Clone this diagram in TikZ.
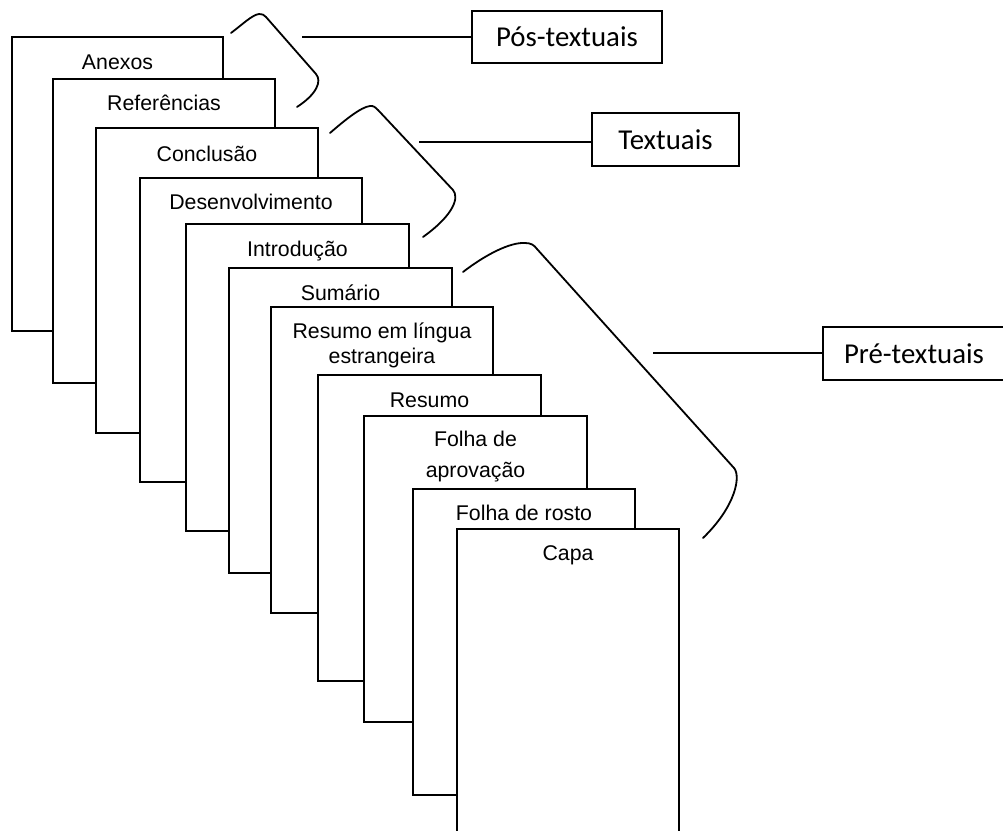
\documentclass[tikz,border=0pt]{standalone}
\usepackage{fontspec}
\setmainfont{Liberation Sans}
\newfontfamily\carlitofam{Carlito}
\newcommand{\pagefont}{\fontsize{21.3bp}{25bp}\selectfont}
\newcommand{\catfont}{\carlitofam\fontsize{28.8bp}{34bp}\selectfont}
\tikzset{
  pg/.style={draw, fill=white, line width=1.8bp, inner sep=0pt, outer sep=0pt, anchor=north west, shape=rectangle},
  pglbl/.style={font=\pagefont, anchor=base, inner sep=0pt, align=center},
  catbox/.style={draw, line width=1.8bp, inner sep=0pt, outer sep=0pt, font=\catfont, anchor=north west, shape=rectangle},
  bracket/.style={line width=1.8bp, line cap=round, line join=round},
  conn/.style={line width=1.8bp}
}
\begin{document}
\begin{tikzpicture}[x=1bp, y=-1bp]
\useasboundingbox (0,0) rectangle (1003,831);
% pages, back to front
\node[pg, minimum width=211bp, minimum height=294bp] (anexos) at (12,37) {};
\node[pglbl] (anexosT) at (117.5,69) {Anexos};
\node[pg, minimum width=222bp, minimum height=304bp] (refs) at (53,79) {};
\node[pglbl] (refsT) at (164,110) {Referências};
\node[pg, minimum width=222bp, minimum height=305bp] (concl) at (96,128) {};
\node[pglbl] (conclT) at (207,161) {Conclusão};
\node[pg, minimum width=222bp, minimum height=304bp] (desen) at (140,178) {};
\node[pglbl] (desenT) at (251,209) {Desenvolvimento};
\node[pg, minimum width=223bp, minimum height=307bp] (intro) at (186,224) {};
\node[pglbl] (introT) at (297.5,256) {Introdução};
\node[pg, minimum width=223bp, minimum height=305bp] (sumario) at (229,268) {};
\node[pglbl] (sumarioT) at (340.5,300) {Sumário};
\node[pg, minimum width=222bp, minimum height=306bp] (rle) at (271,307) {};
\node[pglbl] (rleT) at (382,363) {Resumo em língua\\estrangeira};
\node[pg, minimum width=223bp, minimum height=306bp] (resumo) at (318,375) {};
\node[pglbl] (resumoT) at (429.5,407) {Resumo};
\node[pg, minimum width=223bp, minimum height=306bp] (aprov) at (364,416) {};
\node[pglbl] (aprovT) at (475.5,477) {Folha de\\[6bp]aprovação};
\node[pg, minimum width=222bp, minimum height=306bp] (rosto) at (413,489) {};
\node[pglbl] (rostoT) at (524,520) {Folha de rosto};
\node[pg, minimum width=222bp, minimum height=320bp] (capa) at (457,529) {};
\node[pglbl] (capaT) at (568,560) {Capa};
% category boxes
\node[catbox, minimum width=190bp, minimum height=52bp] (pos) at (472,11) {Pós-textuais};
\node[catbox, minimum width=147bp, minimum height=53bp] (tex) at (592,113) {Textuais};
\node[catbox, minimum width=185bp, minimum height=53bp, text width=185bp, align=left] (pre) at (823,327) {\hspace*{21bp}Pré-textuais};
% brackets
\draw[bracket] (231,33) .. controls (243,24) and (252,15) .. (259,14)
  .. controls (262,13.5) and (264,15) .. (266,17) -- (316,74)
  .. controls (322,81) and (317,94) .. (297,107);
\draw[bracket] (330,133) .. controls (345,120) and (361,107) .. (370,106)
  .. controls (374,105.5) and (376,108) .. (378,110) -- (453,190)
  .. controls (459,197) and (455,214) .. (423,237);
\draw[bracket] (463,272) .. controls (485,255) and (510,242) .. (525,243)
  .. controls (531,243) and (534,245) .. (537,249) -- (734,468)
  .. controls (741,476) and (736,506) .. (703,538);
% connectors
\coordinate (c1) at (302,37);
\coordinate (c2) at (419,142);
\coordinate (c3) at (653,353);
\draw[conn] (c1) -- (c1 -| pos.west);
\draw[conn] (c2) -- (c2 -| tex.west);
\draw[conn] (c3) -- (c3 -| pre.west);
\end{tikzpicture}
\end{document}
